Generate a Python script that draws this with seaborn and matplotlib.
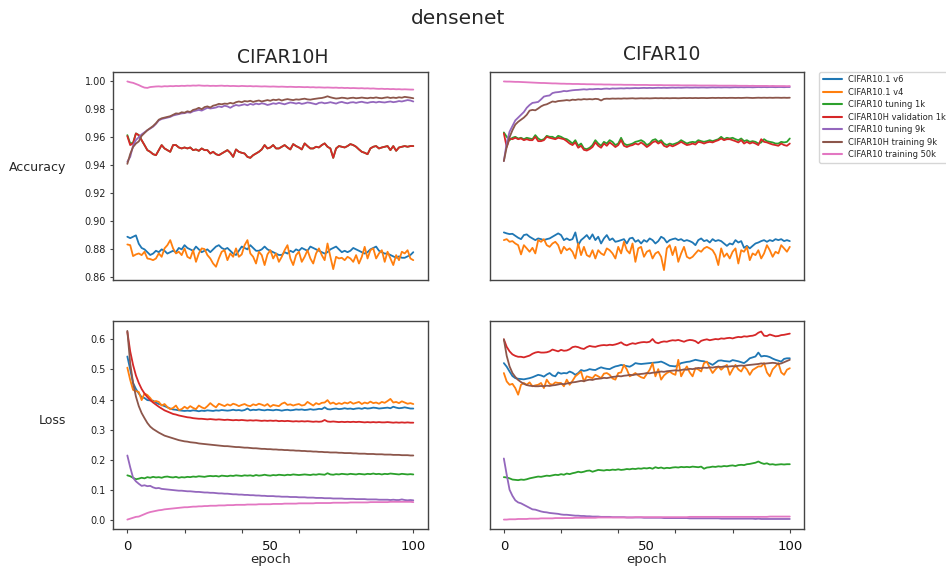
import matplotlib
matplotlib.use("Agg")
import matplotlib.pyplot as plt
from matplotlib.lines import Line2D
import numpy as np
import pandas as pd
import seaborn as sns

# ---------------- data ----------------
epochs = list(range(101))
series_names = ["CIFAR10.1 v6", "CIFAR10.1 v4", "CIFAR10 tuning 1k",
                "CIFAR10H validation 1k", "CIFAR10 tuning 9k",
                "CIFAR10H training 9k", "CIFAR10 training 50k"]
series_colors = ["#1f77b4", "#ff7f0e", "#2ca02c", "#d62728",
                 "#9467bd", "#8c564b", "#e377c2"]
col_titles = ["CIFAR10H", "CIFAR10"]
row_labels = ["Accuracy", "Loss"]
acc_ticks = [0.86, 0.88, 0.90, 0.92, 0.94, 0.96, 0.98, 1.00]
loss_ticks = [0.0, 0.1, 0.2, 0.3, 0.4, 0.5, 0.6]
epoch_tick_marks = [0, 20, 40, 60, 80, 100]
epoch_tick_labels = [0, 50, 100]

# ---- Accuracy, CIFAR10H ----
acc_h_v6 = [
    0.889, 0.888, 0.889, 0.890, 0.884, 0.881, 0.880, 0.878, 0.876, 0.877,
    0.879, 0.878, 0.880, 0.879, 0.877, 0.878, 0.879, 0.878, 0.881, 0.880,
    0.883, 0.881, 0.880, 0.879, 0.882, 0.880, 0.878, 0.879, 0.880, 0.878,
    0.880, 0.882, 0.883, 0.881, 0.880, 0.881, 0.879, 0.877, 0.876, 0.879,
    0.882, 0.881, 0.880, 0.883, 0.881, 0.879, 0.879, 0.880, 0.882, 0.880,
    0.879, 0.878, 0.877, 0.876, 0.876, 0.878, 0.877, 0.879, 0.878, 0.880,
    0.879, 0.881, 0.880, 0.879, 0.882, 0.881, 0.880, 0.879, 0.878, 0.877,
    0.878, 0.880, 0.881, 0.882, 0.880, 0.878, 0.879, 0.878, 0.879, 0.881,
    0.880, 0.879, 0.878, 0.877, 0.878, 0.880, 0.881, 0.882, 0.879, 0.878,
    0.877, 0.877, 0.876, 0.875, 0.874, 0.875, 0.874, 0.874, 0.875, 0.876,
    0.878]
acc_h_v4 = [
    0.8835, 0.8830, 0.8752, 0.8764, 0.8771, 0.8759, 0.8783, 0.8735, 0.8731, 0.8723,
    0.8735, 0.8771, 0.8747, 0.8807, 0.8830, 0.8866, 0.8807, 0.8771, 0.8783, 0.8759,
    0.8807, 0.8747, 0.8735, 0.8794, 0.8711, 0.8771, 0.8807, 0.8802, 0.8759, 0.8735,
    0.8699, 0.8676, 0.8735, 0.8783, 0.8794, 0.8723, 0.8771, 0.8747, 0.8807, 0.8747,
    0.8764, 0.8830, 0.8866, 0.8771, 0.8747, 0.8699, 0.8783, 0.8759, 0.8688, 0.8764,
    0.8794, 0.8735, 0.8771, 0.8711, 0.8747, 0.8794, 0.8830, 0.8735, 0.8688, 0.8759,
    0.8783, 0.8711, 0.8747, 0.8794, 0.8735, 0.8699, 0.8771, 0.8807, 0.8759, 0.8723,
    0.8842, 0.8747, 0.8659, 0.8747, 0.8735, 0.8740, 0.8723, 0.8747, 0.8735, 0.8711,
    0.8759, 0.8699, 0.8747, 0.8818, 0.8735, 0.8794, 0.8807, 0.8735, 0.8771, 0.8794,
    0.8711, 0.8783, 0.8735, 0.8688, 0.8759, 0.8723, 0.8783, 0.8771, 0.8794, 0.8735,
    0.8723]
acc_h_val1k = [
    0.9608, 0.9544, 0.9556, 0.9627, 0.9615, 0.9579, 0.9544, 0.9508, 0.9496, 0.9479,
    0.9472, 0.9508, 0.9544, 0.9520, 0.9508, 0.9496, 0.9544, 0.9544, 0.9527, 0.9520,
    0.9527, 0.9520, 0.9527, 0.9508, 0.9513, 0.9503, 0.9520, 0.9508, 0.9508, 0.9484,
    0.9496, 0.9479, 0.9472, 0.9484, 0.9496, 0.9508, 0.9489, 0.9460, 0.9513, 0.9496,
    0.9489, 0.9484, 0.9460, 0.9453, 0.9472, 0.9484, 0.9496, 0.9513, 0.9544, 0.9520,
    0.9527, 0.9544, 0.9520, 0.9520, 0.9532, 0.9544, 0.9527, 0.9513, 0.9551, 0.9537,
    0.9527, 0.9513, 0.9556, 0.9537, 0.9520, 0.9520, 0.9532, 0.9527, 0.9544, 0.9556,
    0.9532, 0.9520, 0.9453, 0.9520, 0.9537, 0.9532, 0.9527, 0.9537, 0.9551, 0.9544,
    0.9532, 0.9513, 0.9496, 0.9489, 0.9479, 0.9520, 0.9532, 0.9537, 0.9520, 0.9527,
    0.9532, 0.9537, 0.9508, 0.9537, 0.9503, 0.9527, 0.9532, 0.9537, 0.9532, 0.9537,
    0.9537]
# tuning 1k lies under the validation curve except for the first epochs
acc_h_tune1k = [0.9615, 0.9556, 0.9560] + acc_h_val1k[3:]
acc_h_tune9k = [
    0.9425, 0.9460, 0.9540, 0.9580, 0.9600, 0.9620, 0.9635, 0.9650, 0.9662, 0.9675,
    0.9695, 0.9720, 0.9730, 0.9735, 0.9740, 0.9745, 0.9755, 0.9760, 0.9765, 0.9770,
    0.9772, 0.9778, 0.9775, 0.9785, 0.9790, 0.9795, 0.9790, 0.9800, 0.9810, 0.9805,
    0.9808, 0.9812, 0.9820, 0.9815, 0.9825, 0.9820, 0.9810, 0.9822, 0.9830, 0.9825,
    0.9830, 0.9835, 0.9828, 0.9838, 0.9832, 0.9840, 0.9835, 0.9842, 0.9838, 0.9830,
    0.9835, 0.9842, 0.9838, 0.9845, 0.9840, 0.9835, 0.9842, 0.9848, 0.9845, 0.9840,
    0.9845, 0.9838, 0.9842, 0.9848, 0.9845, 0.9840, 0.9835, 0.9845, 0.9848, 0.9842,
    0.9845, 0.9850, 0.9845, 0.9840, 0.9848, 0.9852, 0.9846, 0.9842, 0.9848, 0.9850,
    0.9845, 0.9850, 0.9853, 0.9848, 0.9845, 0.9850, 0.9852, 0.9848, 0.9853, 0.9850,
    0.9848, 0.9852, 0.9855, 0.9850, 0.9853, 0.9858, 0.9855, 0.9860, 0.9865, 0.9862,
    0.9855]
acc_h_train9k = [
    0.9410, 0.9480, 0.9530, 0.9555, 0.9570, 0.9610, 0.9630, 0.9650, 0.9665, 0.9680,
    0.9700, 0.9725, 0.9735, 0.9740, 0.9745, 0.9750, 0.9760, 0.9770, 0.9768, 0.9778,
    0.9775, 0.9785, 0.9780, 0.9795, 0.9800, 0.9810, 0.9800, 0.9815, 0.9820, 0.9812,
    0.9825, 0.9830, 0.9838, 0.9835, 0.9840, 0.9838, 0.9845, 0.9840, 0.9850, 0.9855,
    0.9850, 0.9858, 0.9855, 0.9860, 0.9852, 0.9858, 0.9862, 0.9855, 0.9860, 0.9865,
    0.9860, 0.9868, 0.9865, 0.9870, 0.9862, 0.9868, 0.9872, 0.9868, 0.9865, 0.9870,
    0.9868, 0.9872, 0.9875, 0.9870, 0.9868, 0.9872, 0.9875, 0.9878, 0.9880, 0.9885,
    0.9892, 0.9885, 0.9880, 0.9876, 0.9878, 0.9882, 0.9880, 0.9876, 0.9880, 0.9882,
    0.9878, 0.9880, 0.9883, 0.9880, 0.9878, 0.9882, 0.9880, 0.9884, 0.9880, 0.9878,
    0.9882, 0.9885, 0.9880, 0.9883, 0.9880, 0.9885, 0.9882, 0.9888, 0.9885, 0.9882,
    0.9878]
acc_h_train50k = [
    0.9998, 0.9992, 0.9988, 0.9980, 0.9972, 0.9962, 0.9954, 0.9952, 0.9958, 0.9960,
    0.9962, 0.9963, 0.9961, 0.9964, 0.9963, 0.9965, 0.9964, 0.9966, 0.9965, 0.9967,
    0.9966, 0.9968, 0.9967, 0.9969, 0.9968, 0.9970, 0.9968, 0.9967, 0.9968, 0.9966,
    0.9967, 0.9966, 0.9967, 0.9968, 0.9966, 0.9967, 0.9965, 0.9966, 0.9965, 0.9964,
    0.9966, 0.9965, 0.9964, 0.9965, 0.9963, 0.9964, 0.9963, 0.9962, 0.9963, 0.9962,
    0.9961, 0.9962, 0.9961, 0.9960, 0.9961, 0.9960, 0.9959, 0.9960, 0.9959, 0.9958,
    0.9959, 0.9958, 0.9957, 0.9958, 0.9956, 0.9957, 0.9955, 0.9956, 0.9955, 0.9954,
    0.9955, 0.9954, 0.9953, 0.9954, 0.9952, 0.9953, 0.9951, 0.9952, 0.9950, 0.9951,
    0.9950, 0.9949, 0.9950, 0.9948, 0.9949, 0.9947, 0.9948, 0.9946, 0.9945, 0.9946,
    0.9944, 0.9945, 0.9943, 0.9944, 0.9942, 0.9943, 0.9941, 0.9942, 0.9941, 0.9940,
    0.9940]

# ---- Accuracy, CIFAR10 ----
acc_c_v6 = [
    0.8921, 0.8914, 0.8909, 0.8911, 0.8897, 0.8883, 0.8873, 0.8902, 0.8907, 0.8890,
    0.8878, 0.8866, 0.8878, 0.8873, 0.8866, 0.8873, 0.8878, 0.8890, 0.8902, 0.8914,
    0.8902, 0.8866, 0.8878, 0.8866, 0.8873, 0.8921, 0.8830, 0.8866, 0.8883, 0.8902,
    0.8873, 0.8907, 0.8866, 0.8890, 0.8842, 0.8878, 0.8902, 0.8866, 0.8878, 0.8854,
    0.8859, 0.8866, 0.8873, 0.8842, 0.8878, 0.8883, 0.8854, 0.8866, 0.8842, 0.8866,
    0.8854, 0.8878, 0.8866, 0.8842, 0.8859, 0.8890, 0.8878, 0.8849, 0.8866, 0.8873,
    0.8878, 0.8866, 0.8873, 0.8859, 0.8866, 0.8859, 0.8849, 0.8830, 0.8866, 0.8878,
    0.8859, 0.8866, 0.8849, 0.8873, 0.8859, 0.8866, 0.8859, 0.8842, 0.8825, 0.8842,
    0.8835, 0.8866, 0.8849, 0.8859, 0.8811, 0.8825, 0.8807, 0.8825, 0.8842, 0.8849,
    0.8859, 0.8866, 0.8854, 0.8866, 0.8859, 0.8873, 0.8866, 0.8873, 0.8859, 0.8866,
    0.8859]
acc_c_v4 = [
    0.8866, 0.8873, 0.8854, 0.8859, 0.8842, 0.8830, 0.8764, 0.8830, 0.8807, 0.8783,
    0.8811, 0.8771, 0.8866, 0.8854, 0.8873, 0.8830, 0.8818, 0.8842, 0.8854, 0.8830,
    0.8771, 0.8818, 0.8794, 0.8807, 0.8783, 0.8735, 0.8842, 0.8759, 0.8818, 0.8759,
    0.8747, 0.8794, 0.8735, 0.8794, 0.8771, 0.8759, 0.8807, 0.8794, 0.8771, 0.8735,
    0.8818, 0.8771, 0.8854, 0.8794, 0.8771, 0.8842, 0.8711, 0.8807, 0.8818, 0.8747,
    0.8783, 0.8794, 0.8735, 0.8771, 0.8783, 0.8747, 0.8652, 0.8807, 0.8830, 0.8759,
    0.8818, 0.8711, 0.8771, 0.8818, 0.8747, 0.8735, 0.8747, 0.8771, 0.8794, 0.8783,
    0.8807, 0.8818, 0.8807, 0.8794, 0.8759, 0.8688, 0.8807, 0.8747, 0.8771, 0.8735,
    0.8783, 0.8807, 0.8699, 0.8794, 0.8783, 0.8818, 0.8723, 0.8771, 0.8759, 0.8794,
    0.8735, 0.8771, 0.8830, 0.8794, 0.8747, 0.8783, 0.8771, 0.8830, 0.8807, 0.8783,
    0.8818]
acc_c_tune1k = [
    0.9634, 0.9603, 0.9579, 0.9596, 0.9603, 0.9591, 0.9596, 0.9586, 0.9596, 0.9591,
    0.9586, 0.9615, 0.9591, 0.9579, 0.9586, 0.9610, 0.9603, 0.9603, 0.9591, 0.9610,
    0.9603, 0.9591, 0.9586, 0.9572, 0.9555, 0.9579, 0.9539, 0.9555, 0.9520, 0.9515,
    0.9525, 0.9544, 0.9579, 0.9555, 0.9539, 0.9567, 0.9555, 0.9579, 0.9567, 0.9544,
    0.9555, 0.9596, 0.9555, 0.9544, 0.9548, 0.9555, 0.9567, 0.9572, 0.9579, 0.9567,
    0.9544, 0.9555, 0.9579, 0.9586, 0.9567, 0.9579, 0.9555, 0.9544, 0.9555, 0.9548,
    0.9555, 0.9563, 0.9579, 0.9567, 0.9555, 0.9563, 0.9567, 0.9563, 0.9579, 0.9572,
    0.9567, 0.9572, 0.9579, 0.9572, 0.9579, 0.9586, 0.9603, 0.9586, 0.9596, 0.9591,
    0.9596, 0.9586, 0.9579, 0.9591, 0.9572, 0.9579, 0.9567, 0.9572, 0.9567, 0.9555,
    0.9563, 0.9586, 0.9572, 0.9567, 0.9563, 0.9555, 0.9555, 0.9567, 0.9563, 0.9567,
    0.9591]
acc_c_val1k = [
    0.9627, 0.9530, 0.9591, 0.9586, 0.9596, 0.9586, 0.9591, 0.9579, 0.9586, 0.9579,
    0.9579, 0.9603, 0.9572, 0.9572, 0.9579, 0.9603, 0.9596, 0.9591, 0.9586, 0.9596,
    0.9591, 0.9586, 0.9572, 0.9555, 0.9544, 0.9563, 0.9525, 0.9539, 0.9510, 0.9505,
    0.9515, 0.9530, 0.9563, 0.9539, 0.9525, 0.9555, 0.9539, 0.9563, 0.9548, 0.9530,
    0.9544, 0.9579, 0.9539, 0.9530, 0.9539, 0.9544, 0.9555, 0.9548, 0.9563, 0.9548,
    0.9530, 0.9544, 0.9563, 0.9572, 0.9555, 0.9567, 0.9539, 0.9530, 0.9544, 0.9535,
    0.9544, 0.9555, 0.9567, 0.9555, 0.9544, 0.9548, 0.9555, 0.9548, 0.9567, 0.9563,
    0.9555, 0.9563, 0.9567, 0.9563, 0.9572, 0.9579, 0.9591, 0.9579, 0.9586, 0.9586,
    0.9579, 0.9572, 0.9563, 0.9579, 0.9555, 0.9567, 0.9555, 0.9563, 0.9555, 0.9544,
    0.9586, 0.9567, 0.9563, 0.9555, 0.9548, 0.9544, 0.9539, 0.9555, 0.9544, 0.9539,
    0.9555]
acc_c_tune9k = [
    0.9430, 0.9560, 0.9640, 0.9680, 0.9720, 0.9740, 0.9760, 0.9780, 0.9810, 0.9830,
    0.9845, 0.9848, 0.9852, 0.9870, 0.9890, 0.9895, 0.9898, 0.9915, 0.9920, 0.9922,
    0.9925, 0.9930, 0.9928, 0.9932, 0.9935, 0.9937, 0.9938, 0.9940, 0.9942, 0.9940,
    0.9943, 0.9942, 0.9944, 0.9945, 0.9943, 0.9946, 0.9947, 0.9945, 0.9948, 0.9947,
    0.9948, 0.9949, 0.9948, 0.9950, 0.9949, 0.9950, 0.9951, 0.9950, 0.9951, 0.9952,
    0.9951, 0.9952, 0.9951, 0.9952, 0.9953, 0.9952, 0.9953, 0.9952, 0.9953, 0.9954,
    0.9953, 0.9954, 0.9953, 0.9954, 0.9955, 0.9954, 0.9954, 0.9955, 0.9954, 0.9955,
    0.9955, 0.9954, 0.9955, 0.9956, 0.9955, 0.9956, 0.9955, 0.9956, 0.9956, 0.9955,
    0.9956, 0.9957, 0.9956, 0.9957, 0.9956, 0.9957, 0.9957, 0.9956, 0.9957, 0.9958,
    0.9957, 0.9958, 0.9957, 0.9958, 0.9958, 0.9957, 0.9958, 0.9958, 0.9957, 0.9958,
    0.9958]
acc_c_train9k = [
    0.9430, 0.9530, 0.9600, 0.9650, 0.9690, 0.9710, 0.9725, 0.9740, 0.9760, 0.9790,
    0.9795, 0.9792, 0.9805, 0.9820, 0.9830, 0.9835, 0.9845, 0.9855, 0.9852, 0.9858,
    0.9860, 0.9862, 0.9865, 0.9862, 0.9868, 0.9866, 0.9870, 0.9868, 0.9872, 0.9870,
    0.9872, 0.9870, 0.9874, 0.9872, 0.9862, 0.9873, 0.9875, 0.9874, 0.9876, 0.9875,
    0.9876, 0.9875, 0.9877, 0.9876, 0.9877, 0.9878, 0.9876, 0.9877, 0.9878, 0.9877,
    0.9878, 0.9877, 0.9878, 0.9879, 0.9878, 0.9879, 0.9878, 0.9879, 0.9878, 0.9879,
    0.9879, 0.9878, 0.9879, 0.9880, 0.9879, 0.9880, 0.9879, 0.9880, 0.9879, 0.9880,
    0.9880, 0.9879, 0.9880, 0.9881, 0.9880, 0.9881, 0.9880, 0.9881, 0.9880, 0.9881,
    0.9881, 0.9880, 0.9881, 0.9880, 0.9881, 0.9882, 0.9881, 0.9880, 0.9881, 0.9882,
    0.9881, 0.9882, 0.9881, 0.9882, 0.9881, 0.9882, 0.9882, 0.9881, 0.9882, 0.9881,
    0.9882]
acc_c_train50k = [
    0.9998, 0.9997, 0.9997, 0.9996, 0.9995, 0.9995, 0.9994, 0.9993, 0.9992, 0.9991,
    0.9990, 0.9989, 0.9988, 0.9987, 0.9987, 0.9986, 0.9985, 0.9984, 0.9984, 0.9983,
    0.9982, 0.9982, 0.9981, 0.9981, 0.9980, 0.9980, 0.9980, 0.9979, 0.9979, 0.9978,
    0.9978, 0.9978, 0.9977, 0.9977, 0.9977, 0.9976, 0.9976, 0.9976, 0.9975, 0.9975,
    0.9975, 0.9975, 0.9974, 0.9974, 0.9974, 0.9974, 0.9973, 0.9973, 0.9973, 0.9973,
    0.9973, 0.9972, 0.9972, 0.9972, 0.9972, 0.9972, 0.9971, 0.9971, 0.9971, 0.9971,
    0.9971, 0.9971, 0.9970, 0.9970, 0.9970, 0.9970, 0.9970, 0.9970, 0.9969, 0.9969,
    0.9969, 0.9969, 0.9969, 0.9969, 0.9969, 0.9968, 0.9968, 0.9968, 0.9968, 0.9968,
    0.9968, 0.9968, 0.9967, 0.9967, 0.9967, 0.9967, 0.9966, 0.9967, 0.9966, 0.9966,
    0.9966, 0.9966, 0.9966, 0.9965, 0.9966, 0.9965, 0.9965, 0.9965, 0.9965, 0.9964,
    0.9965]

# ---- Loss, CIFAR10H ----
loss_h_v6 = [
    0.543, 0.500, 0.455, 0.435, 0.420, 0.408, 0.405, 0.398, 0.397, 0.396,
    0.390, 0.385, 0.382, 0.378, 0.374, 0.370, 0.367, 0.366, 0.364, 0.363,
    0.362, 0.363, 0.362, 0.364, 0.363, 0.361, 0.363, 0.362, 0.364, 0.363,
    0.362, 0.364, 0.363, 0.365, 0.364, 0.363, 0.364, 0.366, 0.364, 0.365,
    0.363, 0.365, 0.370, 0.364, 0.366, 0.365, 0.367, 0.365, 0.364, 0.366,
    0.365, 0.364, 0.366, 0.365, 0.363, 0.365, 0.366, 0.364, 0.365, 0.367,
    0.366, 0.367, 0.365, 0.366, 0.368, 0.366, 0.367, 0.369, 0.368, 0.374,
    0.368, 0.367, 0.369, 0.370, 0.368, 0.369, 0.371, 0.369, 0.370, 0.368,
    0.370, 0.371, 0.369, 0.372, 0.370, 0.371, 0.373, 0.372, 0.370, 0.371,
    0.372, 0.373, 0.371, 0.376, 0.373, 0.371, 0.372, 0.374, 0.372, 0.370,
    0.370]
loss_h_v4 = [
    0.506, 0.465, 0.432, 0.428, 0.425, 0.398, 0.420, 0.415, 0.405, 0.392,
    0.395, 0.392, 0.380, 0.385, 0.375, 0.368, 0.372, 0.380, 0.365, 0.368,
    0.376, 0.370, 0.378, 0.372, 0.368, 0.380, 0.374, 0.370, 0.378, 0.388,
    0.380, 0.374, 0.386, 0.382, 0.378, 0.384, 0.380, 0.386, 0.383, 0.378,
    0.382, 0.385, 0.380, 0.378, 0.384, 0.381, 0.386, 0.383, 0.379, 0.385,
    0.376, 0.382, 0.380, 0.378, 0.386, 0.390, 0.382, 0.384, 0.380, 0.383,
    0.385, 0.380, 0.382, 0.392, 0.386, 0.380, 0.388, 0.384, 0.389, 0.390,
    0.398, 0.386, 0.390, 0.384, 0.388, 0.385, 0.390, 0.387, 0.392, 0.386,
    0.389, 0.392, 0.385, 0.390, 0.387, 0.393, 0.388, 0.390, 0.386, 0.392,
    0.389, 0.395, 0.402, 0.390, 0.392, 0.388, 0.394, 0.390, 0.386, 0.388,
    0.385]
loss_h_tune1k = [
    0.148, 0.145, 0.140, 0.135, 0.137, 0.140, 0.138, 0.142, 0.140, 0.143,
    0.141, 0.142, 0.140, 0.143, 0.144, 0.142, 0.141, 0.143, 0.140, 0.142,
    0.141, 0.143, 0.142, 0.144, 0.143, 0.145, 0.144, 0.143, 0.145, 0.146,
    0.145, 0.146, 0.144, 0.147, 0.146, 0.145, 0.147, 0.146, 0.148, 0.147,
    0.146, 0.148, 0.147, 0.148, 0.146, 0.149, 0.147, 0.148, 0.150, 0.148,
    0.147, 0.149, 0.148, 0.150, 0.149, 0.148, 0.150, 0.149, 0.151, 0.150,
    0.149, 0.150, 0.151, 0.150, 0.149, 0.151, 0.150, 0.152, 0.151, 0.150,
    0.155, 0.151, 0.150, 0.152, 0.151, 0.153, 0.152, 0.151, 0.153, 0.152,
    0.151, 0.153, 0.152, 0.151, 0.153, 0.152, 0.154, 0.152, 0.153, 0.151,
    0.153, 0.152, 0.154, 0.153, 0.152, 0.151, 0.153, 0.152, 0.151, 0.152,
    0.151]
loss_h_val1k = [
    0.625, 0.560, 0.515, 0.480, 0.455, 0.435, 0.420, 0.408, 0.398, 0.390,
    0.383, 0.376, 0.370, 0.364, 0.360, 0.356, 0.352, 0.350, 0.347, 0.345,
    0.343, 0.341, 0.340, 0.338, 0.337, 0.336, 0.336, 0.335, 0.334, 0.335,
    0.334, 0.333, 0.334, 0.333, 0.332, 0.333, 0.332, 0.331, 0.332, 0.331,
    0.332, 0.331, 0.330, 0.331, 0.330, 0.331, 0.330, 0.329, 0.330, 0.329,
    0.330, 0.329, 0.330, 0.328, 0.329, 0.328, 0.329, 0.328, 0.327, 0.328,
    0.327, 0.328, 0.327, 0.328, 0.327, 0.326, 0.327, 0.326, 0.327, 0.332,
    0.327, 0.326, 0.327, 0.326, 0.325, 0.326, 0.325, 0.326, 0.325, 0.326,
    0.325, 0.326, 0.325, 0.324, 0.325, 0.324, 0.325, 0.324, 0.325, 0.324,
    0.324, 0.325, 0.324, 0.323, 0.324, 0.323, 0.324, 0.323, 0.324, 0.323,
    0.323]
loss_h_tune9k = [
    0.214, 0.175, 0.140, 0.128, 0.120, 0.113, 0.115, 0.112, 0.113, 0.108,
    0.105, 0.106, 0.103, 0.102, 0.101, 0.100, 0.099, 0.098, 0.097, 0.097,
    0.096, 0.095, 0.095, 0.094, 0.093, 0.093, 0.092, 0.091, 0.091, 0.090,
    0.090, 0.089, 0.088, 0.088, 0.087, 0.087, 0.086, 0.085, 0.085, 0.084,
    0.084, 0.083, 0.083, 0.082, 0.082, 0.081, 0.081, 0.080, 0.080, 0.079,
    0.079, 0.079, 0.078, 0.078, 0.077, 0.077, 0.077, 0.076, 0.076, 0.076,
    0.075, 0.075, 0.075, 0.074, 0.074, 0.074, 0.073, 0.073, 0.073, 0.072,
    0.072, 0.072, 0.071, 0.071, 0.071, 0.071, 0.070, 0.070, 0.070, 0.070,
    0.069, 0.069, 0.069, 0.069, 0.068, 0.068, 0.068, 0.068, 0.067, 0.067,
    0.067, 0.067, 0.066, 0.067, 0.066, 0.066, 0.068, 0.066, 0.065, 0.066,
    0.065]
loss_h_train9k = [
    0.628, 0.520, 0.455, 0.410, 0.378, 0.355, 0.338, 0.322, 0.310, 0.302,
    0.296, 0.290, 0.285, 0.280, 0.277, 0.274, 0.271, 0.268, 0.265, 0.263,
    0.261, 0.260, 0.258, 0.257, 0.256, 0.254, 0.253, 0.252, 0.251, 0.250,
    0.249, 0.248, 0.247, 0.246, 0.245, 0.245, 0.244, 0.243, 0.242, 0.242,
    0.241, 0.240, 0.240, 0.239, 0.238, 0.238, 0.237, 0.236, 0.236, 0.235,
    0.235, 0.234, 0.234, 0.233, 0.233, 0.232, 0.232, 0.231, 0.231, 0.230,
    0.230, 0.229, 0.229, 0.228, 0.228, 0.227, 0.227, 0.226, 0.226, 0.225,
    0.225, 0.224, 0.224, 0.224, 0.223, 0.223, 0.222, 0.222, 0.222, 0.221,
    0.221, 0.220, 0.220, 0.220, 0.219, 0.219, 0.219, 0.218, 0.218, 0.218,
    0.217, 0.217, 0.217, 0.216, 0.216, 0.216, 0.215, 0.215, 0.215, 0.214,
    0.214]
loss_h_train50k = [
    0.001, 0.004, 0.007, 0.010, 0.011, 0.015, 0.019, 0.023, 0.026, 0.028,
    0.030, 0.032, 0.033, 0.035, 0.036, 0.037, 0.038, 0.039, 0.040, 0.041,
    0.042, 0.042, 0.043, 0.044, 0.044, 0.045, 0.045, 0.046, 0.046, 0.047,
    0.047, 0.047, 0.048, 0.048, 0.048, 0.049, 0.049, 0.049, 0.050, 0.050,
    0.050, 0.050, 0.051, 0.051, 0.051, 0.051, 0.052, 0.052, 0.052, 0.052,
    0.052, 0.053, 0.053, 0.053, 0.053, 0.054, 0.054, 0.054, 0.054, 0.054,
    0.055, 0.055, 0.055, 0.055, 0.055, 0.055, 0.056, 0.056, 0.056, 0.056,
    0.056, 0.056, 0.057, 0.057, 0.057, 0.057, 0.057, 0.057, 0.058, 0.058,
    0.058, 0.058, 0.058, 0.058, 0.058, 0.059, 0.059, 0.059, 0.059, 0.059,
    0.059, 0.059, 0.060, 0.060, 0.060, 0.060, 0.060, 0.060, 0.060, 0.060,
    0.059]

# ---- Loss, CIFAR10 ----
loss_c_v6 = [
    0.521, 0.509, 0.493, 0.478, 0.471, 0.469, 0.468, 0.467, 0.469, 0.471,
    0.474, 0.478, 0.482, 0.480, 0.476, 0.483, 0.488, 0.480, 0.477, 0.490,
    0.486, 0.488, 0.487, 0.493, 0.489, 0.482, 0.488, 0.498, 0.495, 0.497,
    0.501, 0.499, 0.498, 0.503, 0.507, 0.504, 0.502, 0.501, 0.506, 0.510,
    0.512, 0.515, 0.513, 0.511, 0.509, 0.514, 0.521, 0.519, 0.518, 0.519,
    0.520, 0.521, 0.522, 0.523, 0.524, 0.526, 0.522, 0.517, 0.512, 0.511,
    0.510, 0.515, 0.521, 0.523, 0.525, 0.526, 0.529, 0.532, 0.530, 0.528,
    0.527, 0.524, 0.520, 0.515, 0.522, 0.529, 0.530, 0.528, 0.527, 0.526,
    0.531, 0.529, 0.527, 0.524, 0.521, 0.528, 0.537, 0.540, 0.543, 0.556,
    0.543, 0.545, 0.544, 0.541, 0.536, 0.532, 0.529, 0.526, 0.535, 0.537,
    0.537]
loss_c_v4 = [
    0.488, 0.460, 0.449, 0.452, 0.438, 0.416, 0.449, 0.455, 0.449, 0.457,
    0.444, 0.447, 0.449, 0.455, 0.438, 0.466, 0.452, 0.449, 0.457, 0.455,
    0.455, 0.444, 0.466, 0.449, 0.462, 0.477, 0.485, 0.493, 0.460, 0.477,
    0.474, 0.471, 0.482, 0.477, 0.471, 0.486, 0.488, 0.482, 0.470, 0.466,
    0.488, 0.490, 0.515, 0.500, 0.477, 0.482, 0.488, 0.480, 0.474, 0.471,
    0.485, 0.499, 0.521, 0.477, 0.501, 0.466, 0.480, 0.488, 0.493, 0.486,
    0.482, 0.532, 0.477, 0.495, 0.510, 0.490, 0.477, 0.504, 0.500, 0.493,
    0.521, 0.526, 0.505, 0.488, 0.500, 0.510, 0.499, 0.508, 0.515, 0.482,
    0.500, 0.515, 0.500, 0.493, 0.510, 0.500, 0.482, 0.498, 0.504, 0.510,
    0.510, 0.521, 0.490, 0.477, 0.500, 0.510, 0.521, 0.490, 0.482, 0.499,
    0.504]
loss_c_tune1k = [
    0.142, 0.141, 0.138, 0.134, 0.133, 0.132, 0.134, 0.133, 0.135, 0.138,
    0.140, 0.142, 0.144, 0.143, 0.145, 0.147, 0.146, 0.148, 0.150, 0.149,
    0.152, 0.150, 0.154, 0.152, 0.155, 0.157, 0.160, 0.158, 0.160, 0.163,
    0.164, 0.160, 0.163, 0.166, 0.165, 0.164, 0.166, 0.165, 0.167, 0.166,
    0.168, 0.166, 0.167, 0.169, 0.168, 0.170, 0.169, 0.171, 0.170, 0.172,
    0.171, 0.173, 0.170, 0.175, 0.172, 0.174, 0.171, 0.173, 0.172, 0.174,
    0.175, 0.174, 0.176, 0.175, 0.176, 0.175, 0.177, 0.176, 0.175, 0.177,
    0.170, 0.174, 0.175, 0.177, 0.176, 0.178, 0.177, 0.179, 0.178, 0.180,
    0.181, 0.179, 0.182, 0.183, 0.182, 0.185, 0.186, 0.188, 0.190, 0.194,
    0.189, 0.186, 0.188, 0.184, 0.185, 0.183, 0.184, 0.185, 0.184, 0.185,
    0.185]
loss_c_val1k = [
    0.600, 0.575, 0.560, 0.550, 0.545, 0.542, 0.542, 0.540, 0.543, 0.546,
    0.552, 0.556, 0.558, 0.556, 0.556, 0.557, 0.560, 0.566, 0.563, 0.560,
    0.565, 0.562, 0.563, 0.567, 0.574, 0.576, 0.574, 0.570, 0.568, 0.574,
    0.578, 0.576, 0.575, 0.578, 0.580, 0.581, 0.580, 0.582, 0.581, 0.583,
    0.586, 0.590, 0.583, 0.580, 0.584, 0.587, 0.585, 0.588, 0.590, 0.591,
    0.590, 0.592, 0.601, 0.590, 0.587, 0.591, 0.593, 0.592, 0.595, 0.597,
    0.596, 0.598, 0.595, 0.592, 0.596, 0.598, 0.597, 0.594, 0.587, 0.595,
    0.598, 0.600, 0.597, 0.599, 0.601, 0.600, 0.603, 0.602, 0.604, 0.605,
    0.603, 0.606, 0.608, 0.607, 0.610, 0.609, 0.611, 0.612, 0.615, 0.622,
    0.626, 0.612, 0.611, 0.616, 0.613, 0.610, 0.611, 0.614, 0.615, 0.617,
    0.619]
loss_c_tune9k = [
    0.204, 0.150, 0.100, 0.080, 0.065, 0.058, 0.055, 0.050, 0.045, 0.040,
    0.035, 0.034, 0.031, 0.028, 0.026, 0.025, 0.023, 0.022, 0.021, 0.020,
    0.018, 0.017, 0.017, 0.016, 0.015, 0.014, 0.014, 0.013, 0.013, 0.012,
    0.012, 0.011, 0.011, 0.011, 0.010, 0.010, 0.010, 0.010, 0.009, 0.009,
    0.009, 0.009, 0.009, 0.008, 0.008, 0.008, 0.008, 0.008, 0.008, 0.007,
    0.007, 0.007, 0.007, 0.007, 0.007, 0.007, 0.006, 0.006, 0.006, 0.006,
    0.006, 0.006, 0.006, 0.006, 0.006, 0.005, 0.005, 0.005, 0.005, 0.005,
    0.005, 0.005, 0.005, 0.005, 0.005, 0.005, 0.004, 0.004, 0.004, 0.004,
    0.004, 0.004, 0.004, 0.004, 0.004, 0.004, 0.004, 0.004, 0.003, 0.004,
    0.003, 0.003, 0.003, 0.003, 0.003, 0.003, 0.003, 0.003, 0.003, 0.003,
    0.003]
loss_c_train9k = [
    0.600, 0.545, 0.510, 0.488, 0.475, 0.465, 0.458, 0.452, 0.448, 0.446,
    0.445, 0.444, 0.444, 0.445, 0.444, 0.446, 0.445, 0.447, 0.448, 0.450,
    0.452, 0.451, 0.453, 0.455, 0.457, 0.458, 0.460, 0.462, 0.461, 0.464,
    0.466, 0.465, 0.468, 0.469, 0.470, 0.472, 0.471, 0.473, 0.475, 0.476,
    0.478, 0.477, 0.479, 0.480, 0.482, 0.481, 0.483, 0.484, 0.485, 0.486,
    0.488, 0.487, 0.489, 0.490, 0.491, 0.493, 0.492, 0.494, 0.495, 0.496,
    0.497, 0.496, 0.498, 0.500, 0.499, 0.502, 0.501, 0.503, 0.505, 0.504,
    0.506, 0.505, 0.507, 0.506, 0.508, 0.509, 0.508, 0.510, 0.509, 0.510,
    0.511, 0.510, 0.512, 0.513, 0.512, 0.514, 0.515, 0.516, 0.517, 0.518,
    0.520, 0.519, 0.520, 0.521, 0.522, 0.521, 0.518, 0.520, 0.524, 0.528,
    0.532]
loss_c_train50k = [
    0.001, 0.001, 0.002, 0.002, 0.002, 0.003, 0.003, 0.003, 0.003, 0.004,
    0.004, 0.004, 0.004, 0.005, 0.005, 0.005, 0.005, 0.005, 0.006, 0.006,
    0.006, 0.006, 0.006, 0.006, 0.006, 0.007, 0.007, 0.007, 0.007, 0.007,
    0.007, 0.007, 0.007, 0.008, 0.008, 0.008, 0.008, 0.008, 0.008, 0.008,
    0.008, 0.008, 0.008, 0.008, 0.008, 0.008, 0.009, 0.009, 0.009, 0.009,
    0.009, 0.009, 0.009, 0.009, 0.009, 0.009, 0.009, 0.009, 0.009, 0.009,
    0.009, 0.009, 0.009, 0.009, 0.009, 0.010, 0.010, 0.010, 0.010, 0.010,
    0.010, 0.010, 0.010, 0.010, 0.010, 0.010, 0.010, 0.010, 0.010, 0.010,
    0.010, 0.010, 0.010, 0.010, 0.010, 0.010, 0.010, 0.010, 0.010, 0.010,
    0.010, 0.010, 0.010, 0.011, 0.011, 0.011, 0.011, 0.011, 0.011, 0.011,
    0.011]

panels = [
    [[acc_h_v6, acc_h_v4, acc_h_tune1k, acc_h_val1k, acc_h_tune9k, acc_h_train9k, acc_h_train50k],
     [acc_c_v6, acc_c_v4, acc_c_tune1k, acc_c_val1k, acc_c_tune9k, acc_c_train9k, acc_c_train50k]],
    [[loss_h_v6, loss_h_v4, loss_h_tune1k, loss_h_val1k, loss_h_tune9k, loss_h_train9k, loss_h_train50k],
     [loss_c_v6, loss_c_v4, loss_c_tune1k, loss_c_val1k, loss_c_tune9k, loss_c_train9k, loss_c_train50k]],
]

# ---------------- style ----------------
sns.set_style("white")
plt.rcParams["font.family"] = ["DejaVu Sans"]
plt.rcParams["axes.edgecolor"] = "#444444"
plt.rcParams["axes.linewidth"] = 1.0

fig, axes = plt.subplots(2, 2, figsize=(9.46, 5.67), dpi=100, sharey="row")
fig.subplots_adjust(left=0.1195, right=0.85, top=0.873, bottom=0.067,
                    wspace=0.197, hspace=0.202)

palette = dict(zip(series_names, series_colors))

for r in range(2):
    for c in range(2):
        ax = axes[r, c]
        frames = []
        for name, vals in zip(series_names, panels[r][c]):
            frames.append(pd.DataFrame({"epoch": epochs, "value": vals, "series": name}))
        df = pd.concat(frames, ignore_index=True)
        sns.lineplot(data=df, x="epoch", y="value", hue="series",
                     hue_order=series_names, palette=palette, ax=ax,
                     legend=False, errorbar=None, linewidth=1.3)
        ax.set_ylabel("")
        ax.set_xlabel("")
        for sp in ax.spines.values():
            sp.set_visible(True)
            sp.set_color("#444444")
        if r == 0:
            ax.tick_params(axis="x", bottom=False, labelbottom=False)
        else:
            ax.xaxis.remove_overlapping_locs = False
            ax.set_xticks(epoch_tick_marks)
            ax.set_xticklabels([])
            ax.set_xticks(epoch_tick_labels, minor=True)
            ax.set_xticklabels([str(v) for v in epoch_tick_labels], minor=True)
            ax.tick_params(axis="x", which="major", length=3, width=0.8,
                           color="#444444", bottom=True)
            ax.tick_params(axis="x", which="minor", length=0, pad=8,
                           labelsize=9.5, labelcolor="#111111")
            ax.set_xlabel("epoch", fontsize=9.5, labelpad=0)
        if c == 0:
            ax.tick_params(axis="y", left=True, length=2.5, width=0.8, pad=2.5,
                           color="#444444", labelsize=7, labelcolor="#222222")
        else:
            ax.tick_params(axis="y", left=False, labelleft=False)

axes[0, 0].set_yticks(acc_ticks)
axes[0, 0].set_yticklabels([f"{v:.2f}" for v in acc_ticks])
axes[1, 0].set_yticks(loss_ticks)
axes[1, 0].set_yticklabels([f"{v:.1f}" for v in loss_ticks])

title_pos = [(0.541, 1.0697), (0.547, 1.0865)]
for c, t in enumerate(col_titles):
    axes[0, c].text(title_pos[c][0], title_pos[c][1], t, transform=axes[0, c].transAxes,
                    ha="center", va="center", fontsize=13.5)

fig.text(66 / 946, 1 - 168 / 567, row_labels[0], ha="right", va="center", fontsize=9)
fig.text(66 / 946, 1 - 420 / 567, row_labels[1], ha="right", va="center", fontsize=9)
fig.text(458 / 946, 1 - 18 / 567, "densenet", ha="center", va="center", fontsize=14.5)

handles = [Line2D([0], [0], color=col, lw=1.5) for col in series_colors]
axes[0, 1].legend(handles, series_names, loc="upper left",
                  bbox_to_anchor=(1.048, 1.0), borderaxespad=0, fontsize=6,
                  handlelength=2.3, labelspacing=0.42, frameon=True,
                  framealpha=0.8, edgecolor="0.8", fancybox=True)

fig.savefig("out.png", dpi=100)
